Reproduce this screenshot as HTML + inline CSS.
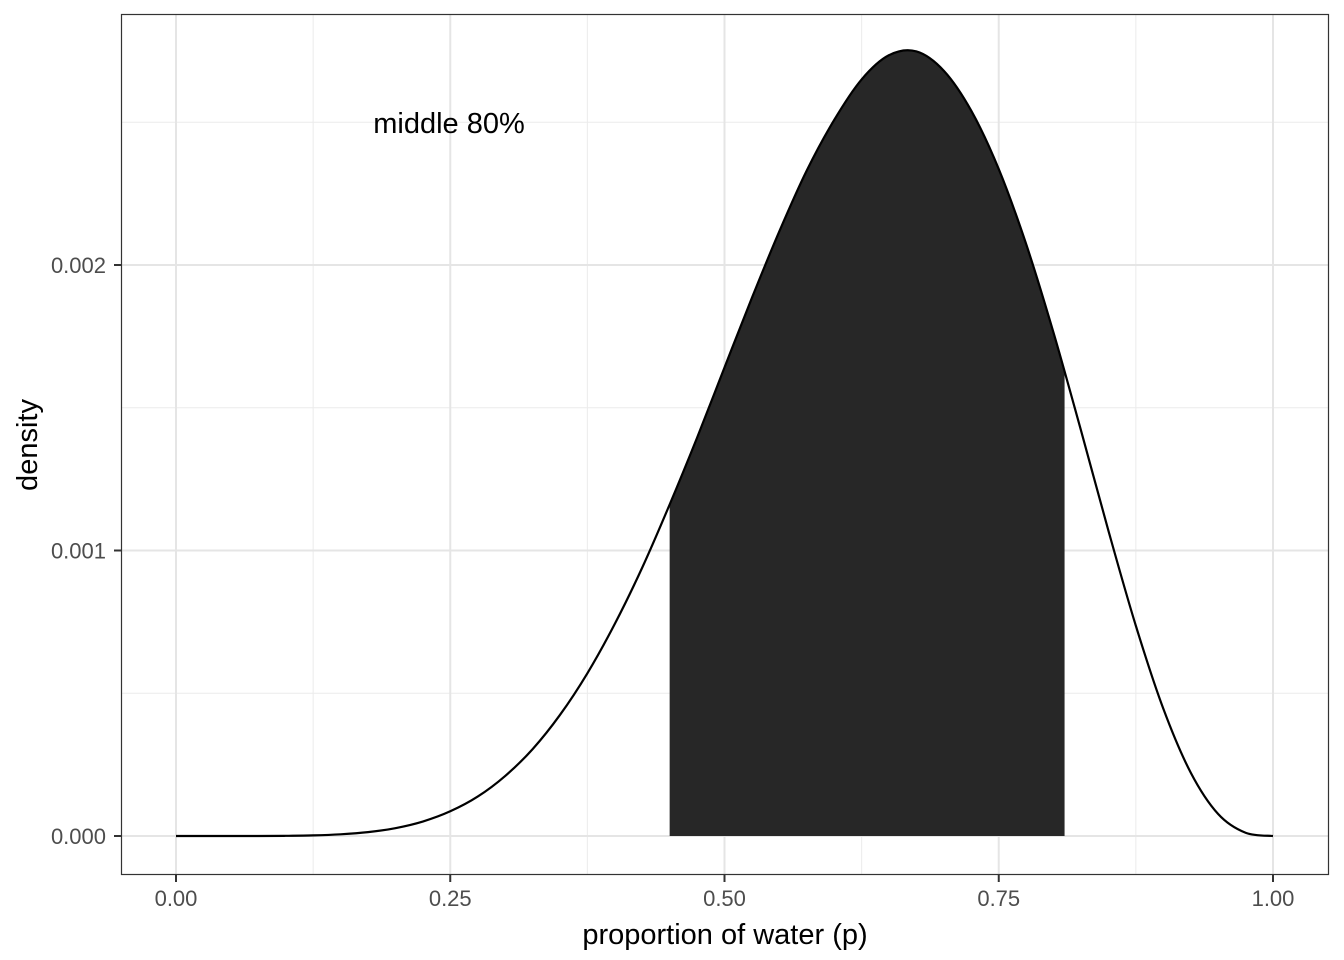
<!DOCTYPE html>
<html><head><meta charset="utf-8">
<style>
html,body{margin:0;padding:0;background:#fff;}
svg{display:block;font-family:"Liberation Sans",Arial,sans-serif;}
</style></head>
<body>
<svg id="chart" width="1344" height="960" viewBox="0 0 1344 960">
<rect x="0" y="0" width="1344" height="960" fill="#fff"/>
<g id="grid"></g>
<g id="marks"></g>
<rect x="121.5" y="14.5" width="1207" height="860" fill="none" stroke="#333" stroke-width="1.2"/>
<g id="axes"></g>
<text x="449" y="133" font-size="29" text-anchor="middle" fill="#000">middle 80%</text>
<text x="725" y="944" font-size="29" text-anchor="middle" fill="#000">proportion of water (p)</text>
<text transform="translate(37,445) rotate(-90)" font-size="29" text-anchor="middle" fill="#000">density</text>
</svg>
<script>
const pGrid = [0,0.025,0.05,0.075,0.1,0.125,0.15,0.175,0.2,0.225,0.25,0.275,0.3,0.325,0.35,0.375,0.4,0.425,0.45,0.475,0.5,0.525,0.55,0.575,0.6,0.625,0.65,0.675,0.7,0.725,0.75,0.775,0.8,0.825,0.85,0.875,0.9,0.925,0.95,0.975,1];
const densityValues = [0,0,0,0.0001,0.0006,0.0021,0.0059,0.0135,0.0275,0.0507,0.0865,0.138,0.210,0.304,0.424,0.570,0.743,0.940,1.161,1.395,1.641,1.885,2.118,2.331,2.508,2.650,2.735,2.748,2.680,2.540,2.336,2.073,1.762,1.420,1.069,0.736,0.446,0.222,0.077,0.0113,0]; // x 0.001
const intervalBounds = [0.45, 0.81];
const xTicks = [0,0.25,0.5,0.75,1];
const xTickLabels = ["0.00","0.25","0.50","0.75","1.00"];
const yTicks = [0,1,2];
const yTickLabels = ["0.000","0.001","0.002"];

const NS="http://www.w3.org/2000/svg";
const xs = p => 176 + p*1097;
const ys = d => 836 - d*285.5;
function mk(tag, attrs, parent){const e=document.createElementNS(NS,tag);for(const k in attrs)e.setAttribute(k,attrs[k]);parent.appendChild(e);return e;}
const grid=document.getElementById('grid'), marks=document.getElementById('marks'), axes=document.getElementById('axes');

for(let i=0;i<xTicks.length-1;i++){const m=(xTicks[i]+xTicks[i+1])/2;
 const l=mk('line',{x1:xs(m),x2:xs(m),y1:14,y2:875,stroke:'#ebebeb','stroke-width':1},grid);
 
 }
for(let i=0;i<yTicks.length;i++){const m=yTicks[i]+0.5;
 const l=mk('line',{x1:121,x2:1329,y1:ys(m),y2:ys(m),stroke:'#ebebeb','stroke-width':1},grid);
 
 }
xTicks.forEach(t=>{const l=mk('line',{x1:xs(t),x2:xs(t),y1:14,y2:875,stroke:'#e5e5e5','stroke-width':2},grid);
 
 });
yTicks.forEach(t=>{const l=mk('line',{x1:121,x2:1329,y1:ys(t),y2:ys(t),stroke:'#e5e5e5','stroke-width':2},grid);
 
 });

function interp(p){for(let i=0;i<pGrid.length-1;i++){if(p>=pGrid[i]&&p<=pGrid[i+1]){const f=(p-pGrid[i])/(pGrid[i+1]-pGrid[i]);return densityValues[i]+f*(densityValues[i+1]-densityValues[i]);}}return 0;}
function pathFor(pts){let d=`M${pts[0][0]},${pts[0][1]}`;for(let i=0;i<pts.length-1;i++){const p0=pts[i-1]||pts[i],p1=pts[i],p2=pts[i+1],p3=pts[i+2]||p2;
 const c1=[p1[0]+(p2[0]-p0[0])/6,p1[1]+(p2[1]-p0[1])/6],c2=[p2[0]-(p3[0]-p1[0])/6,p2[1]-(p3[1]-p1[1])/6];
 d+=`C${c1[0].toFixed(2)},${c1[1].toFixed(2)} ${c2[0].toFixed(2)},${c2[1].toFixed(2)} ${p2[0].toFixed(2)},${p2[1].toFixed(2)}`;}return d;}

const lo=intervalBounds[0], hi=intervalBounds[1];
const sp=[[xs(lo),ys(interp(lo))]];
pGrid.forEach((p,i)=>{if(p>lo&&p<hi)sp.push([xs(p),ys(densityValues[i])]);});
sp.push([xs(hi),ys(interp(hi))]);
const area=mk('path',{d:pathFor(sp)+`L${xs(hi)},${ys(0)}L${xs(lo)},${ys(0)}Z`,fill:'#272727'},marks);



const cp=pGrid.map((p,i)=>[xs(p),ys(densityValues[i])]);
const line=mk('path',{d:pathFor(cp),fill:'none',stroke:'#000','stroke-width':2.2},marks);



xTicks.forEach((t,i)=>{const l=mk('line',{x1:xs(t),x2:xs(t),y1:875,y2:882,stroke:'#333','stroke-width':2},axes);
 
 
 const tx=mk('text',{x:xs(t),y:906,'font-size':22,'text-anchor':'middle',fill:'#4d4d4d'},axes);tx.textContent=xTickLabels[i];
 
 });
yTicks.forEach((t,i)=>{const l=mk('line',{x1:114,x2:121,y1:ys(t),y2:ys(t),stroke:'#333','stroke-width':2},axes);
 
 
 const tx=mk('text',{x:106,y:ys(t)+8,'font-size':22,'text-anchor':'end',fill:'#4d4d4d'},axes);tx.textContent=yTickLabels[i];
 
 });
</script>
</body></html>
